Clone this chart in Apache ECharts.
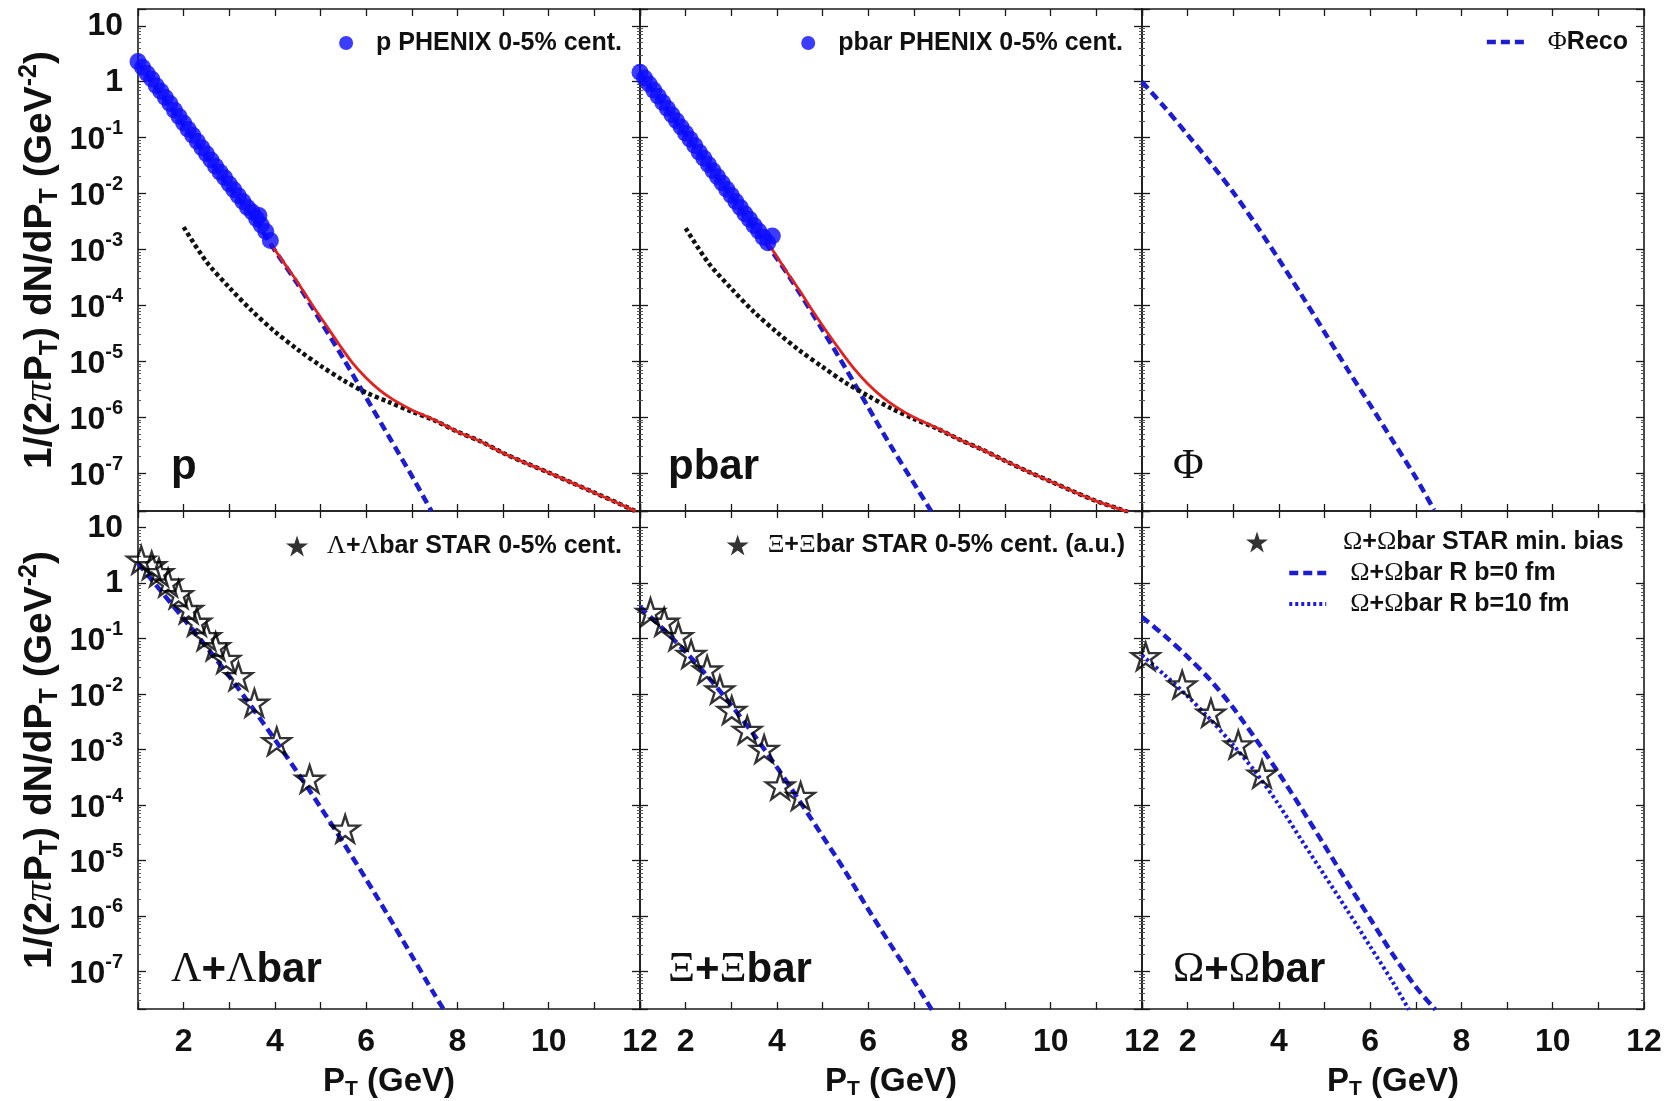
<!DOCTYPE html>
<html>
<head>
<meta charset="utf-8">
<script src="https://cdn.jsdelivr.net/npm/echarts@6/dist/echarts.min.js"></script>
<style>html,body{margin:0;padding:0;background:#fff}#c{width:1677px;height:1101px}</style>
</head>
<body>
<div id="c"></div>
<script>
// ---------------- data ----------------
const Y_MIN = 2.1e-8, Y_MAX = 20;

// p panel
const P_PHENIX_PT = [1.0,1.1,1.2,1.3,1.4,1.5,1.6,1.7,1.8,1.9,2.0,2.1,2.2,2.3,2.4,2.5,2.6,2.7,2.8,2.9,3.0,3.1,3.2,3.3,3.4,3.5,3.6,3.65,3.7,3.8,3.9];
const P_PHENIX_Y  = [2.29,1.82,1.41,1.12,0.851,0.676,0.525,0.407,0.309,0.240,0.182,0.141,0.110,0.0851,0.0661,0.0513,0.0398,0.0309,0.0240,0.0191,0.0148,0.0117,0.00912,0.00724,0.00562,0.00468,0.00355,0.00407,0.00275,0.00209,0.00145];
const P_RECO_PT = [1.0,1.5,2.0,2.5,3.0,3.5,4.0,4.5,5.0,5.5,6.0,6.5,7.0,7.43];
const P_RECO_Y  = [2.14,0.603,0.166,0.0468,0.0132,0.00398,9.55e-4,2.40e-4,5.25e-5,1.12e-5,2.24e-6,4.47e-7,8.91e-8,2.09e-8];
const P_FRAG_PT = [2.0,2.5,3.0,3.5,4.0,4.5,5.0,5.5,6.0,6.5,7.0,7.5,8.0,8.5,9.0,9.5,10.0,10.5,11.0,11.5,11.9];
const P_FRAG_Y  = [2.51e-3,6.03e-4,2.09e-4,7.94e-5,3.39e-5,1.62e-5,8.32e-6,4.57e-6,2.75e-6,1.86e-6,1.26e-6,8.71e-7,5.50e-7,3.72e-7,2.29e-7,1.51e-7,1.02e-7,6.76e-8,4.47e-8,2.95e-8,2.09e-8];
const P_SUM_PT = [3.9,4.2,4.5,4.8,5.1,5.4,5.7,6.0,6.3,6.6,7.0,7.5,8.0,8.5,9.0,9.5,10.0,10.5,11.0,11.5,11.9];
const P_SUM_Y  = [1.29e-3,5.75e-4,2.57e-4,1.07e-4,4.68e-5,2.04e-5,9.33e-6,5.01e-6,3.02e-6,2.04e-6,1.35e-6,8.91e-7,5.50e-7,3.72e-7,2.29e-7,1.51e-7,1.02e-7,6.76e-8,4.47e-8,2.95e-8,2.09e-8];

// pbar panel
const PB_PHENIX_PT = [1.0,1.1,1.2,1.3,1.4,1.5,1.6,1.7,1.8,1.9,2.0,2.1,2.2,2.3,2.4,2.5,2.6,2.7,2.8,2.9,3.0,3.1,3.2,3.3,3.4,3.5,3.6,3.7,3.8,3.9];
const PB_PHENIX_Y  = [1.48,1.17,0.912,0.708,0.550,0.427,0.331,0.257,0.200,0.155,0.120,0.0933,0.0724,0.0550,0.0427,0.0331,0.0257,0.0200,0.0155,0.0120,0.00933,0.00724,0.00562,0.00437,0.00347,0.00269,0.00214,0.00166,0.00132,0.00174];
const PB_RECO_PT = [1.0,1.5,2.0,2.5,3.0,3.5,4.0,4.5,5.0,5.5,6.0,6.5,7.0,7.38];
const PB_RECO_Y  = [1.41,0.398,0.112,0.0316,0.00891,0.00251,6.92e-4,1.66e-4,3.63e-5,7.59e-6,1.51e-6,3.02e-7,6.61e-8,2.09e-8];
const PB_FRAG_PT = [2.0,2.5,3.0,3.5,4.0,4.5,5.0,5.5,6.0,6.5,7.0,7.5,8.0,8.5,9.0,9.5,10.0,10.5,11.0,11.5,11.7];
const PB_FRAG_Y  = [2.40e-3,5.75e-4,2.00e-4,7.59e-5,3.31e-5,1.55e-5,7.94e-6,4.17e-6,2.40e-6,1.45e-6,9.33e-7,6.31e-7,3.98e-7,2.63e-7,1.66e-7,1.07e-7,7.08e-8,4.68e-8,3.16e-8,2.29e-8,2.0e-8];
const PB_SUM_PT = [3.8,4.2,4.5,4.8,5.1,5.4,5.7,6.0,6.3,6.6,7.0,7.5,8.0,8.5,9.0,9.5,10.0,10.5,11.0,11.5,11.7];
const PB_SUM_Y  = [1.32e-3,4.17e-4,1.82e-4,7.59e-5,3.31e-5,1.51e-5,7.24e-6,3.89e-6,2.34e-6,1.55e-6,1.0e-6,6.46e-7,3.98e-7,2.63e-7,1.66e-7,1.07e-7,7.08e-8,4.68e-8,3.16e-8,2.29e-8,2.0e-8];

// Phi panel
const PHI_PT = [1.0,1.5,2.0,2.5,3.0,3.5,4.0,4.5,5.0,5.5,6.0,6.5,7.0,7.4];
const PHI_Y  = [1.0,0.347,0.112,0.0355,0.0105,2.75e-3,6.61e-4,1.51e-4,3.31e-5,7.24e-6,1.66e-6,3.72e-7,8.32e-8,2.19e-8];

// Lambda panel
const LAM_STAR_PT = [1.07,1.30,1.46,1.66,1.89,2.11,2.29,2.50,2.70,2.93,3.20,3.55,4.04,4.76,5.54];
const LAM_STAR_Y  = [2.63,2.09,1.57,1.02,0.631,0.339,0.200,0.110,0.0724,0.0427,0.0209,6.92e-3,1.41e-3,2.95e-4,3.72e-5];
const LAM_RECO_PT = [1.0,1.5,2.0,2.5,3.0,3.5,4.0,4.5,5.0,5.5,6.0,6.5,7.0,7.5,7.7];
const LAM_RECO_Y  = [2.29,0.724,0.229,0.0708,0.0209,5.75e-3,1.51e-3,3.80e-4,9.12e-5,2.09e-5,4.57e-6,9.55e-7,1.91e-7,3.80e-8,2.04e-8];

// Xi panel
const XI_STAR_PT = [1.23,1.53,1.84,2.12,2.47,2.75,3.01,3.35,3.72,4.07,4.52];
const XI_STAR_Y  = [0.302,0.200,0.110,0.0525,0.0275,0.0120,5.13e-3,2.24e-3,1.02e-3,2.24e-4,1.45e-4];
const XI_RECO_PT = [1.0,1.5,2.0,2.5,3.0,3.5,4.0,4.5,5.0,5.5,6.0,6.5,7.0,7.4];
const XI_RECO_Y  = [0.372,0.151,0.0575,0.0200,6.31e-3,1.82e-3,4.79e-4,1.17e-4,2.75e-5,6.31e-6,1.32e-6,2.95e-7,6.76e-8,2.0e-8];

// Omega panel
const OM_STAR_PT = [1.08,1.88,2.51,3.11,3.63];
const OM_STAR_Y  = [0.0479,0.0148,4.57e-3,1.23e-3,3.63e-4];
const OM_B0_PT = [1.0,1.5,2.0,2.5,3.0,3.5,4.0,4.5,5.0,5.5,6.0,6.5,7.0,7.43];
const OM_B0_Y  = [0.245,0.112,0.0468,0.0178,5.62e-3,1.51e-3,3.72e-4,8.51e-5,1.86e-5,3.98e-6,8.91e-7,2.0e-7,5.25e-8,2.04e-8];
const OM_B10_PT = [1.0,1.5,2.0,2.5,3.0,3.5,4.0,4.5,5.0,5.5,6.0,6.5,6.85];
const OM_B10_Y  = [0.0501,0.0219,9.12e-3,3.47e-3,1.20e-3,3.80e-4,1.0e-4,2.29e-5,5.37e-6,1.26e-6,2.82e-7,6.31e-8,2.04e-8];

// labels
const X_LABELS = [2,4,6,8,10,12];
const PANEL_LABELS = ['p','pbar','Φ','Λ+Λbar','Ξ+Ξbar','Ω+Ωbar'];
const LEGEND_NAMES = {
  p:'p PHENIX 0-5% cent.', pb:'pbar PHENIX 0-5% cent.', phi:'ΦReco',
  lam:'Λ+Λbar STAR 0-5% cent.', xi:'Ξ+Ξbar STAR 0-5% cent. (a.u.)',
  om:'Ω+Ωbar STAR min. bias', om0:'Ω+Ωbar R b=0 fm', om10:'Ω+Ωbar R b=10 fm'
};

// ---------------- styling / layout ----------------
const F = '"Liberation Sans", Arial, Helvetica, sans-serif';
const FS = '"Liberation Serif", "DejaVu Serif", serif';
const INK = '#111';
const BLUE = '#1c1cd2';
const DOT_BLUE = '#1a1ae6';
const STAR = 'path://M0,-10L2.25,-3.1L9.51,-3.09L3.64,1.18L5.88,8.09L0,3.83L-5.88,8.09L-3.64,1.18L-9.51,-3.09L-2.25,-3.1Z';

const COL_L = [138, 640, 1142];
const ROW_T = [9, 511];
const PW = 502, PH = 502;

const zip = (xs, ys) => xs.map((x, i) => [x, ys[i]]);
const greek = s => s.replace(/([ΛΞΩΦ])/g, '{g|$1}');

const grids = [], xAxes = [], yAxes = [];
const axisLine = {show:true, onZero:false, lineStyle:{color:'#1a1a1a', width:1.6}};
const tick = len => ({show:true, inside:true, length:len, lineStyle:{color:'#1a1a1a', width:1.3}});
const minor = {show:true, splitNumber:9, length:3, lineStyle:{color:'#555', width:1}};
const TF = 32;
const yRich = {
  n:{fontSize:TF, fontWeight:'bold', fontFamily:F, color:INK, lineHeight:26},
  b:{fontSize:TF, fontWeight:'bold', fontFamily:F, color:INK, lineHeight:26, verticalAlign:'bottom'},
  s:{fontSize:20, fontWeight:'bold', fontFamily:F, color:INK, lineHeight:17, verticalAlign:'top'},
  h:{fontSize:2, lineHeight:38}
};
function yFmt(v){
  const l = Math.log10(v), e = Math.round(l);
  if (Math.abs(l - e) > 1e-6) return '';
  if (e === 1) return '{n|10}';
  if (e === 0) return '{n|1}';
  return '{h| }{b|10}{s|' + e + '}';
}
const yNameRich = {
  n:{fontSize:39, fontWeight:'bold', fontFamily:F, color:INK, lineHeight:46},
  pi:{fontSize:41, fontStyle:'italic', fontFamily:FS, color:INK, lineHeight:46},
  sub:{fontSize:25, fontWeight:'bold', fontFamily:F, color:INK, lineHeight:25, verticalAlign:'bottom'},
  sup:{fontSize:25, fontWeight:'bold', fontFamily:F, color:INK, lineHeight:25, verticalAlign:'top'}
};
const xNameRich = {
  n:{fontSize:33, fontWeight:'bold', fontFamily:F, color:INK, lineHeight:36},
  sub:{fontSize:21, fontWeight:'bold', fontFamily:F, color:INK, lineHeight:20, verticalAlign:'bottom'}
};

for (let r = 0; r < 2; r++) {
  for (let c = 0; c < 3; c++) {
    const i = r * 3 + c;
    grids.push({left:COL_L[c], top:ROW_T[r], width:PW, height:PH, containLabel:false});
    xAxes.push({
      gridIndex:i, type:'value', min:1, max:12, interval:1, position:'bottom',
      axisLine, axisTick:tick(7), splitLine:{show:false},
      axisLabel:{show:r === 1, margin:17, fontSize:TF, fontWeight:'bold', fontFamily:F, color:INK,
        formatter:v => X_LABELS.indexOf(v) >= 0 ? String(v) : ''},
      name: r === 1 ? '{n|P}{sub|T}{n| (GeV)}' : '', nameLocation:'middle', nameGap:55,
      nameTextStyle:{rich:xNameRich}
    });
    xAxes.push({
      gridIndex:i, type:'value', min:1, max:12, interval:1, position:'top',
      axisLine, axisTick:tick(7), splitLine:{show:false}, axisLabel:{show:false}
    });
    yAxes.push({
      gridIndex:i, type:'log', logBase:10, min:Y_MIN, max:Y_MAX, position:'left',
      axisLine, axisTick:tick(8), minorTick:minor, splitLine:{show:false},
      axisLabel:{show:c === 0, margin:15, formatter:yFmt, rich:yRich},
      name: c === 0 ? '{n|1/(2}{pi|π}{n|P}{sub|T}{n|) dN/dP}{sub|T}{n| (GeV}{sup|-2}{n|)}' : '',
      nameLocation:'middle', nameRotate:90, nameGap:75, nameTextStyle:{rich:yNameRich}
    });
    yAxes.push({
      gridIndex:i, type:'log', logBase:10, min:Y_MIN, max:Y_MAX, position:'right',
      axisLine, axisTick:tick(8), minorTick:minor, splitLine:{show:false}, axisLabel:{show:false}
    });
  }
}

function lineSeries(name, grid, data, color, width, dash, z){
  return {name, type:'line', xAxisIndex:grid*2, yAxisIndex:grid*2, data, showSymbol:false, symbol:'none',
    smooth:0.3, z:z || 2, lineStyle:{color, width, type:dash, cap:'butt'}, itemStyle:{color}};
}
function starSeries(name, grid, data){
  return {name, type:'scatter', xAxisIndex:grid*2, yAxisIndex:grid*2, data, symbol:STAR, symbolSize:[28,27], z:5,
    itemStyle:{color:'rgba(0,0,0,0)', borderColor:'#000', borderWidth:2.4}};
}
function dotSeries(name, grid, data){
  return {name, type:'scatter', xAxisIndex:grid*2, yAxisIndex:grid*2, data, symbol:'circle', symbolSize:17, z:5,
    itemStyle:{color:'#0b0bff'}};
}

const DASH = [9, 5], DOT = [4, 3];
const series = [
  lineSeries('p reco', 0, zip(P_RECO_PT, P_RECO_Y), BLUE, 4.5, DASH),
  lineSeries('p frag', 0, zip(P_FRAG_PT, P_FRAG_Y), INK, 4.5, DOT),
  lineSeries('p sum', 0, zip(P_SUM_PT, P_SUM_Y), '#e3211e', 2.8, 'solid', 3),
  dotSeries(LEGEND_NAMES.p, 0, zip(P_PHENIX_PT, P_PHENIX_Y)),

  lineSeries('pbar reco', 1, zip(PB_RECO_PT, PB_RECO_Y), BLUE, 4.5, DASH),
  lineSeries('pbar frag', 1, zip(PB_FRAG_PT, PB_FRAG_Y), INK, 4.5, DOT),
  lineSeries('pbar sum', 1, zip(PB_SUM_PT, PB_SUM_Y), '#e3211e', 2.8, 'solid', 3),
  dotSeries(LEGEND_NAMES.pb, 1, zip(PB_PHENIX_PT, PB_PHENIX_Y)),

  lineSeries(LEGEND_NAMES.phi, 2, zip(PHI_PT, PHI_Y), BLUE, 4.5, DASH),

  lineSeries('lam reco', 3, zip(LAM_RECO_PT, LAM_RECO_Y), BLUE, 4.5, DASH),
  starSeries(LEGEND_NAMES.lam, 3, zip(LAM_STAR_PT, LAM_STAR_Y)),

  lineSeries('xi reco', 4, zip(XI_RECO_PT, XI_RECO_Y), BLUE, 4.5, DASH),
  starSeries(LEGEND_NAMES.xi, 4, zip(XI_STAR_PT, XI_STAR_Y)),

  lineSeries(LEGEND_NAMES.om0, 5, zip(OM_B0_PT, OM_B0_Y), BLUE, 4.5, DASH),
  lineSeries(LEGEND_NAMES.om10, 5, zip(OM_B10_PT, OM_B10_Y), DOT_BLUE, 4, [3, 3]),
  starSeries(LEGEND_NAMES.om, 5, zip(OM_STAR_PT, OM_STAR_Y))
];

const LF = 25;
const legRich = {
  g:{fontFamily:FS, fontSize:LF + 1, fontWeight:'normal', color:INK, lineHeight:26},
  p14:{width:14}, p19:{width:19}, p70:{width:70}
};
const legText = {fontSize:LF, fontWeight:'bold', fontFamily:F, color:INK, lineHeight:26, rich:legRich};
const legBase = {padding:0, selectedMode:false, textStyle:legText, formatter:greek, itemHeight:14};
const starIcon = {color:'#000', borderWidth:0};
const noSym = {opacity:0};
const legends = [
  Object.assign({}, legBase, {data:[{name:LEGEND_NAMES.p, icon:'circle', itemStyle:{color:'#0b0bff'}}], right:1677-622, top:30, itemWidth:50}),
  Object.assign({}, legBase, {data:[{name:LEGEND_NAMES.pb, icon:'circle', itemStyle:{color:'#0b0bff'}}], right:1677-1123, top:30, itemWidth:50}),
  Object.assign({}, legBase, {data:[{name:LEGEND_NAMES.phi, itemStyle:noSym, lineStyle:{width:4.5}}], right:1677-1628, top:29, itemWidth:42,
    formatter:n => '{p14|}' + greek(n)}),
  Object.assign({}, legBase, {data:[{name:LEGEND_NAMES.lam, icon:STAR, itemStyle:starIcon}], right:1677-622, top:533, itemWidth:50, itemHeight:21}),
  Object.assign({}, legBase, {data:[{name:LEGEND_NAMES.xi, icon:STAR, itemStyle:starIcon}], right:1677-1125, top:532, itemWidth:50, itemHeight:21}),
  Object.assign({}, legBase, {data:[{name:LEGEND_NAMES.om, icon:STAR, itemStyle:starIcon}], left:1246, top:529, itemWidth:22, itemHeight:21,
    formatter:n => '{p70|}' + greek(n)}),
  Object.assign({}, legBase, {data:[{name:LEGEND_NAMES.om0, itemStyle:noSym, lineStyle:{width:4.5}}, {name:LEGEND_NAMES.om10, itemStyle:noSym, lineStyle:{width:4}}],
    left:1287, top:560, orient:'vertical', itemGap:5, itemWidth:37, formatter:n => '{p19|}' + greek(n)})
];

const panelRich = {g:{fontFamily:FS, fontSize:42, fontWeight:'normal', fill:INK}};
const labelPos = [[171,467],[668,467],[1173,467],[171,970],[668,970],[1173,970]];
const graphic = PANEL_LABELS.map((t, i) => ({
  type:'text', x:labelPos[i][0], y:labelPos[i][1], z:10,
  style:{text:greek(t), fontSize:42, fontWeight:'bold', fontFamily:F, fill:INK,
    verticalAlign:'middle', align:'left', rich:panelRich}
}));

const chart = echarts.init(document.getElementById('c'), null, {renderer:'canvas'});
chart.setOption({
  backgroundColor:'#fff', animation:false,
  grid:grids, xAxis:xAxes, yAxis:yAxes, series, legend:legends, graphic
});
</script>
</body>
</html>
